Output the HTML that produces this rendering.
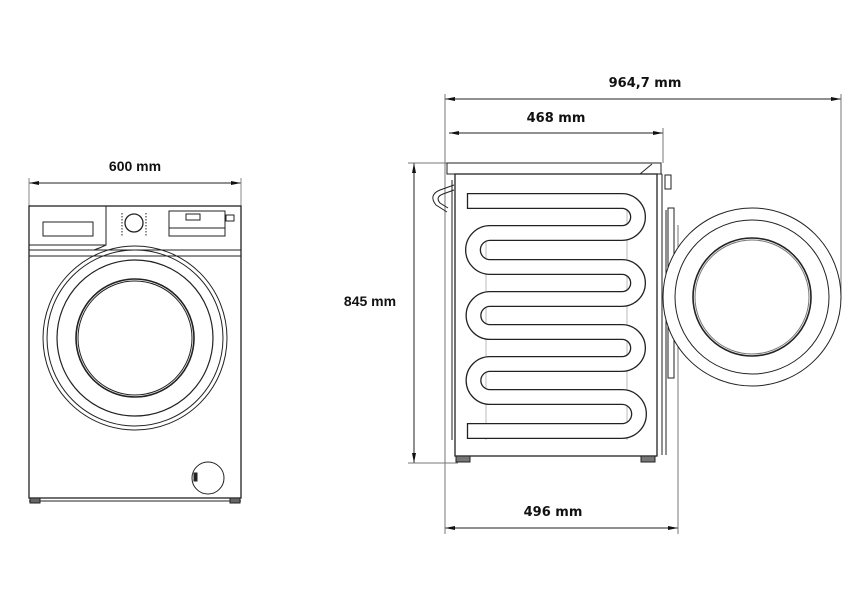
<!DOCTYPE html>
<html><head><meta charset="utf-8"><style>
html,body{margin:0;padding:0;background:#fff;width:862px;height:605px;overflow:hidden}
svg{display:block}
.a{font-family:"Liberation Sans",sans-serif;font-weight:bold;font-size:14px;fill:#111}
.d{font-family:"DejaVu Sans",sans-serif;font-weight:bold;font-size:13px;fill:#111}
</style></head><body>
<svg width="862" height="605" viewBox="0 0 862 605" xmlns="http://www.w3.org/2000/svg">
<defs>
<marker id="ar" viewBox="0 0 10 4" refX="10" refY="2" markerWidth="12" markerHeight="4" markerUnits="userSpaceOnUse" orient="auto-start-reverse"><path d="M0,0 L10,2 L0,4z" fill="#111"/></marker>
</defs>
<g fill="none" stroke="#222" stroke-width="1">
<!-- FRONT VIEW -->
<line x1="29" y1="183" x2="241" y2="183" marker-start="url(#ar)" marker-end="url(#ar)"/>
<line x1="29" y1="178" x2="29" y2="206" stroke="#888"/>
<line x1="241" y1="178" x2="241" y2="206" stroke="#888"/>
<rect x="29" y="206" width="212" height="292" stroke-width="1.3"/>
<line x1="29" y1="250" x2="241" y2="250"/>
<line x1="29" y1="256" x2="241" y2="256"/>
<path d="M106,206 L106,245 L29,245 M106,245 Q100,248 94,250" />
<rect x="43" y="222" width="50" height="14"/>
<circle cx="134" cy="223" r="9" stroke-width="1.3"/>
<g stroke-dasharray="1.5,1.5"><line x1="122" y1="213" x2="122" y2="236"/><line x1="146" y1="213" x2="146" y2="236"/></g>
<rect x="169" y="211" width="56" height="25"/>
<line x1="169" y1="228" x2="225" y2="228"/>
<rect x="186" y="214" width="14" height="6"/>
<rect x="226" y="215" width="8" height="6"/>
<circle cx="135" cy="338" r="92"/>
<circle cx="135" cy="338" r="88"/>
<circle cx="135" cy="338" r="78" stroke-width="1.2"/>
<circle cx="135" cy="338" r="59" stroke-width="1.6"/>
<circle cx="135" cy="338" r="57"/>
<circle cx="208" cy="478" r="16"/>
<rect x="194" y="473" width="3" height="8" fill="#222"/>
<line x1="29" y1="501" x2="241" y2="501"/>
<rect x="30" y="498" width="10" height="5" fill="#666"/>
<rect x="230" y="498" width="10" height="5" fill="#666"/>

<!-- SIDE VIEW dims -->
<line x1="445" y1="99" x2="841" y2="99" marker-start="url(#ar)" marker-end="url(#ar)"/>
<line x1="449" y1="133" x2="663" y2="133" marker-start="url(#ar)" marker-end="url(#ar)"/>
<line x1="445" y1="528" x2="678" y2="528" marker-start="url(#ar)" marker-end="url(#ar)"/>
<line x1="414" y1="163" x2="414" y2="463" marker-start="url(#ar)" marker-end="url(#ar)"/>
<g stroke="#777">
<line x1="445" y1="94" x2="445" y2="534"/>
<line x1="841" y1="94" x2="841" y2="300"/>
<line x1="663" y1="128" x2="663" y2="163"/>
<line x1="678" y1="225" x2="678" y2="534"/>
<line x1="408" y1="163" x2="449" y2="163"/>
<line x1="408" y1="463" x2="458" y2="463"/>
</g>
<!-- lid -->
<rect x="447" y="163" width="214" height="11"/>
<line x1="640" y1="174" x2="652" y2="164"/>
<!-- body -->
<rect x="455" y="174" width="202" height="282" stroke-width="1.3"/>
<line x1="452" y1="180" x2="452" y2="440"/>
<line x1="657" y1="174" x2="662" y2="174"/>
<line x1="662" y1="174" x2="662" y2="455"/>
<line x1="666" y1="210" x2="666" y2="455"/>
<rect x="665" y="175" width="6" height="14"/>
<path d="M454,185 L440,190 Q428,195 436,205 L447,212"/>
<path d="M454,190 L443,194 Q435,197 440,203 L448,208"/>
<line x1="458" y1="456" x2="655" y2="456"/>
<rect x="456" y="456" width="14" height="6" fill="#777"/>
<rect x="641" y="456" width="14" height="6" fill="#777"/>
<rect x="668" y="208" width="6" height="170" />
<g stroke="#bbb"><line x1="486" y1="226" x2="486" y2="440"/><line x1="627" y1="193" x2="627" y2="440"/></g>
<!-- serpentine tube -->
<path d="M467,201 L622,201 A16,16 0 0 1 622,233 L490,233 A17,17 0 0 0 490,267 L622,267 A16,16 0 0 1 622,299 L490,299 A16.5,16.5 0 0 0 490,332 L622,332 A16,16 0 0 1 622,364 L490,364 A16.5,16.5 0 0 0 490,397 L622,397 A17,17 0 0 1 622,431 L467,431" stroke="#222" stroke-width="16"/>
<path d="M467,201 L622,201 A16,16 0 0 1 622,233 L490,233 A17,17 0 0 0 490,267 L622,267 A16,16 0 0 1 622,299 L490,299 A16.5,16.5 0 0 0 490,332 L622,332 A16,16 0 0 1 622,364 L490,364 A16.5,16.5 0 0 0 490,397 L622,397 A17,17 0 0 1 622,431 L467,431" stroke="#fff" stroke-width="13.4"/>
<line x1="467.5" y1="193" x2="467.5" y2="209" stroke-width="1.3"/>
<line x1="467.5" y1="423" x2="467.5" y2="439" stroke-width="1.3"/>
<!-- door side -->
<circle cx="752" cy="297" r="89" fill="#fff"/>
<circle cx="752" cy="297" r="77"/>
<circle cx="752" cy="297" r="59" stroke-width="1.6"/>
<circle cx="752" cy="297" r="57" stroke="#777"/>
</g>
<text class="a" x="135" y="171" text-anchor="middle">600 mm</text>
<text class="d" x="645" y="87" text-anchor="middle">964,7 mm</text>
<text class="d" x="556" y="122" text-anchor="middle">468 mm</text>
<text class="d" x="553" y="516" text-anchor="middle">496 mm</text>
<text class="a" x="370" y="306" text-anchor="middle">845 mm</text>
</svg>
</body></html>
